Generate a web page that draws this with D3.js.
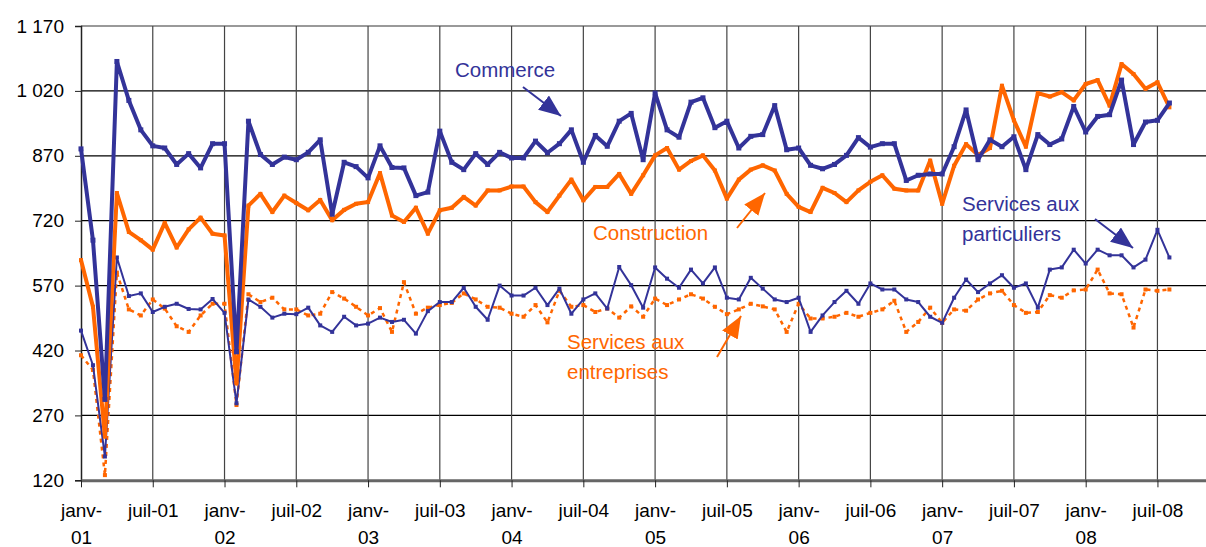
<!DOCTYPE html>
<html>
<head>
<meta charset="utf-8">
<script src="https://cdn.jsdelivr.net/npm/d3@7"></script>
<style>
  body { margin: 0; background: #fff; }
  svg { display: block; font-family: "Liberation Sans", Arial, sans-serif; }
</style>
</head>
<body>
<div id="chart"></div>
<script>
// monthly values, janv-01 .. août-08
const commerce = [886, 675, 307, 1088, 998, 930, 893, 888, 850, 875, 842, 898, 898,
  417, 950, 873, 850, 867, 861, 878, 907, 735, 855, 845, 819, 893,
  843, 842, 778, 786, 927, 855, 838, 875, 850, 878, 865, 865, 904,
  877, 898, 930, 855, 917, 892, 950, 968, 861, 1015, 930, 913, 994,
  1004, 935, 950, 888, 915, 919, 986, 884, 888, 848, 840, 850, 871,
  912, 890, 898, 898, 813, 825, 828, 828, 891, 976, 861, 907, 891,
  914, 838, 919, 896, 909, 984, 925, 961, 965, 1045, 896, 948, 952, 992];

const construction = [629, 521, 221, 784, 694, 675, 653, 715, 658, 700, 727, 690, 686,
  344, 755, 782, 740, 778, 761, 744, 768, 721, 745, 759, 763, 830,
  732, 717, 750, 690, 744, 750, 775, 755, 790, 790, 799, 799, 763,
  740, 778, 815, 767, 798, 798, 828, 782, 825, 871, 888, 838, 858,
  871, 836, 771, 815, 838, 848, 836, 782, 752, 740, 796, 784, 763,
  790, 810, 825, 794, 790, 790, 859, 759, 847, 897, 872, 888, 1032,
  952, 891, 1015, 1007, 1017, 998, 1036, 1045, 986, 1082, 1059, 1025, 1040, 982];

const particuliers = [466, 386, 175, 635, 546, 552, 509, 521, 528, 516, 515, 539, 507,
  298, 538, 521, 496, 505, 504, 519, 478, 463, 498, 478, 482, 496,
  486, 491, 459, 511, 532, 532, 565, 521, 491, 570, 547, 547, 565,
  525, 563, 505, 538, 552, 517, 613, 571, 519, 612, 586, 565, 607,
  575, 612, 542, 538, 588, 563, 538, 532, 542, 463, 501, 532, 558,
  528, 575, 561, 561, 538, 532, 498, 484, 542, 584, 555, 575, 594,
  565, 575, 519, 607, 612, 653, 621, 653, 640, 640, 612, 630, 699, 635];

const entreprises = [409, 375, 132, 600, 515, 501, 538, 517, 476, 463, 501, 528, 528,
  294, 550, 532, 542, 515, 515, 501, 505, 555, 540, 521, 501, 518,
  463, 578, 505, 519, 525, 530, 552, 538, 521, 519, 505, 498, 525,
  485, 558, 521, 525, 509, 517, 496, 522, 498, 540, 525, 538, 550,
  540, 521, 504, 515, 528, 522, 515, 463, 528, 494, 494, 498, 507,
  498, 507, 515, 535, 463, 486, 519, 484, 515, 512, 538, 552, 558,
  525, 507, 509, 548, 542, 559, 561, 607, 552, 550, 473, 561, 558, 561];

const yTicks = [120, 270, 420, 570, 720, 870, 1020, 1170];
const xTickLabels = [["janv-", "01"], ["juil-01"], ["janv-", "02"], ["juil-02"],
  ["janv-", "03"], ["juil-03"], ["janv-", "04"], ["juil-04"],
  ["janv-", "05"], ["juil-05"], ["janv-", "06"], ["juil-06"],
  ["janv-", "07"], ["juil-07"], ["janv-", "08"], ["juil-08"]];

const blue = "#333399", orange = "#ff6600";
const width = 1206, height = 547;
const plotLeft = 81, plotRight = 1206, plotTop = 26, plotBottom = 480.3;

const svg = d3.select("#chart").append("svg")
  .attr("width", width)
  .attr("height", height);

const x = d3.scaleLinear().domain([0, 94.06]).range([plotLeft, plotRight]);
const y = d3.scaleLinear().domain([120, 1170]).range([plotBottom, plotTop]);
const fmt = d3.formatLocale({decimal: ",", thousands: " ", grouping: [3], currency: ["", ""]}).format(",d");

// grid
svg.append("g")
  .selectAll("line")
  .data(yTicks.slice(1, -1))
  .enter().append("line")
    .attr("x1", plotLeft).attr("x2", plotRight)
    .attr("y1", d => y(d)).attr("y2", d => y(d))
    .attr("stroke", "#000").attr("stroke-width", 1.2);

svg.append("line")
  .attr("x1", plotLeft).attr("x2", plotRight)
  .attr("y1", y(1170)).attr("y2", y(1170))
  .attr("stroke", "#999").attr("stroke-width", 2);

const xTickPos = xTickLabels.map((d, i) => i * 6);

svg.append("g")
  .selectAll("line")
  .data(xTickPos.slice(1))
  .enter().append("line")
    .attr("x1", d => x(d)).attr("x2", d => x(d))
    .attr("y1", plotTop).attr("y2", plotBottom)
    .attr("stroke", "#444").attr("stroke-width", 1.2);

// y axis
const yAxis = svg.append("g")
  .attr("transform", `translate(${plotLeft},0)`)
  .call(d3.axisLeft(y).tickValues(yTicks).tickFormat(fmt).tickSize(6).tickPadding(11));
yAxis.select(".domain").attr("stroke", "#222").attr("stroke-width", 1.5);
yAxis.selectAll(".tick line").attr("stroke", "#222");
yAxis.selectAll("text").attr("font-size", 19).attr("fill", "#000")
  .attr("font-family", "Liberation Sans, Arial, sans-serif");

// x axis
const xAxis = svg.append("g")
  .attr("transform", `translate(0,${plotBottom})`)
  .call(d3.axisBottom(x).tickValues(xTickPos).tickFormat("").tickSize(7).tickSizeOuter(0));
xAxis.select(".domain").attr("stroke", "#666").attr("stroke-width", 3);
xAxis.selectAll(".tick line").attr("stroke", "#222");

xAxis.selectAll(".tick").each(function (d, i) {
  const t = d3.select(this).append("text")
    .attr("fill", "#000")
    .attr("font-size", 19)
    .attr("text-anchor", "middle")
    .attr("font-family", "Liberation Sans, Arial, sans-serif");
  xTickLabels[i].forEach((s, k) => {
    t.append("tspan").attr("x", 0).attr("y", 37 + k * 27).text(s);
  });
});

// series
function drawSeries(data, color, w, dash, msize) {
  const line = d3.line().x((d, i) => x(i)).y(d => y(d));
  svg.append("path")
    .datum(data)
    .attr("fill", "none")
    .attr("stroke", color)
    .attr("stroke-width", w)
    .attr("stroke-linejoin", "round")
    .attr("stroke-dasharray", dash)
    .attr("d", line);
  svg.append("g")
    .selectAll("rect")
    .data(data)
    .enter().append("rect")
      .attr("x", (d, i) => x(i) - msize / 2)
      .attr("y", d => y(d) - msize / 2)
      .attr("width", msize)
      .attr("height", msize)
      .attr("fill", color);
}

drawSeries(entreprises, orange, 2.5, "4,4", 4);
drawSeries(particuliers, blue, 2, null, 4);
drawSeries(construction, orange, 4, null, 4);
drawSeries(commerce, blue, 4, null, 5);

// annotations
const defs = svg.append("defs");
[["arrBlue", blue], ["arrOrange", orange]].forEach(a => {
  defs.append("marker")
    .attr("id", a[0])
    .attr("viewBox", "0 0 22 18")
    .attr("refX", 22).attr("refY", 9)
    .attr("markerWidth", 22).attr("markerHeight", 18)
    .attr("markerUnits", "userSpaceOnUse")
    .attr("orient", "auto")
    .append("path")
      .attr("d", "M0,0L22,9L0,18Z")
      .attr("fill", a[1]);
});

function note(lines, tx, ty, color, a) {
  const t = svg.append("text")
    .attr("fill", color)
    .attr("font-size", 20.5);
  lines.forEach((s, k) => {
    t.append("tspan").attr("x", tx).attr("y", ty + k * 30).text(s);
  });
  svg.append("line")
    .attr("x1", a[0]).attr("y1", a[1])
    .attr("x2", a[2]).attr("y2", a[3])
    .attr("stroke", color).attr("stroke-width", 2)
    .attr("marker-end", `url(#${color == blue ? "arrBlue" : "arrOrange"})`);
}

note(["Commerce"], 455, 77, blue, [523, 87, 561, 116]);
note(["Construction"], 593, 240, orange, [737, 228, 765, 193]);
note(["Services aux", "entreprises"], 567, 349, orange, [717, 357, 741, 316]);
note(["Services aux", "particuliers"], 962, 211, blue, [1095, 219, 1133, 248]);
</script>
</body>
</html>
